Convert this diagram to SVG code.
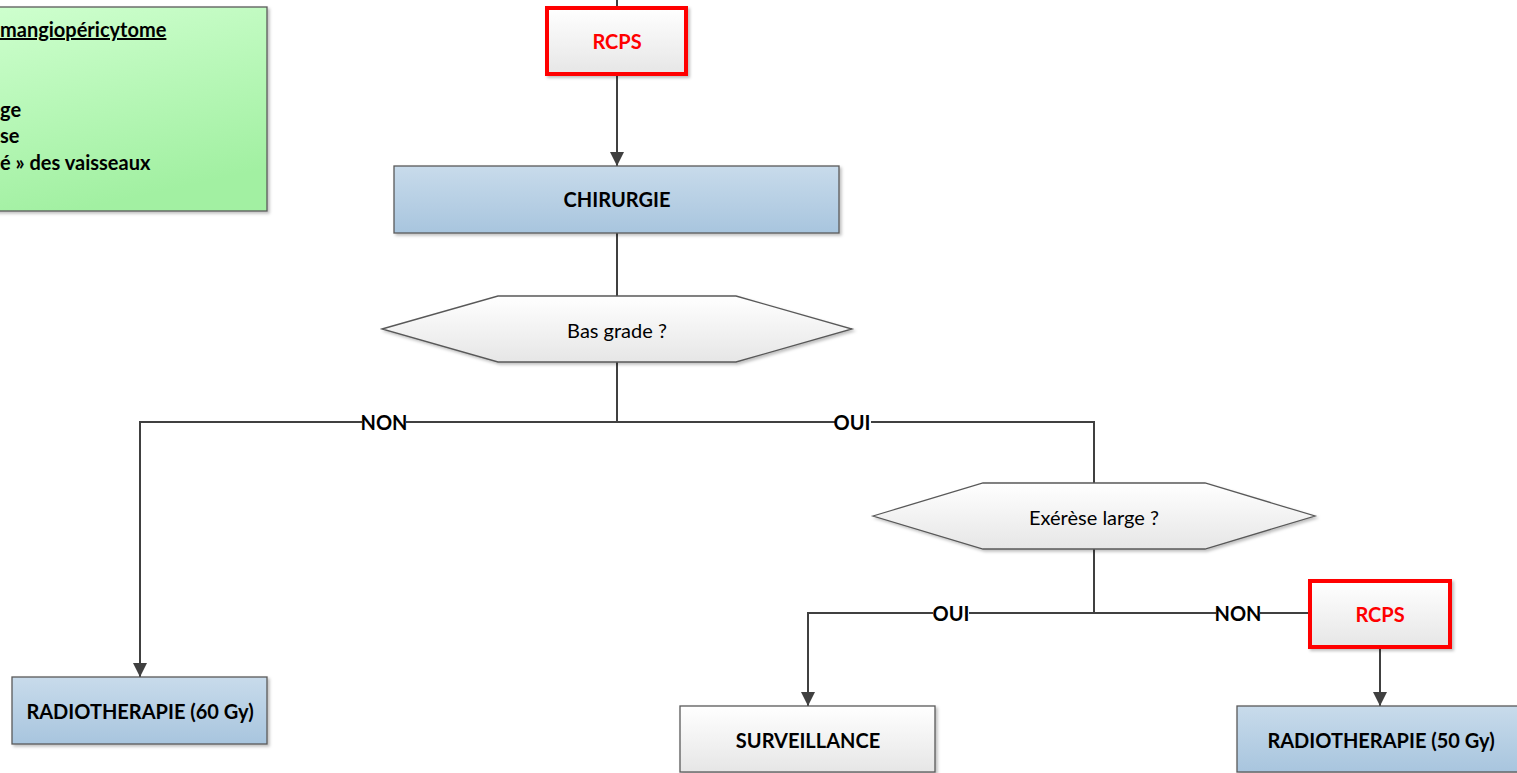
<svg xmlns="http://www.w3.org/2000/svg" width="1517" height="773" viewBox="0 0 1517 773">
<style>
.lbl{font-family:Lato,"Liberation Sans",sans-serif;font-weight:bold;font-size:20px;fill:#000;text-anchor:middle}
.reg{font-family:Lato,"Liberation Sans",sans-serif;font-size:20px;fill:#000;text-anchor:middle}
.red{fill:#ff0000}
.box{stroke:#595959;stroke-width:1.3}
.rcps{stroke:#ff0000;stroke-width:4;fill:url(#gGray)}
.conn{fill:none;stroke:#404040;stroke-width:2}
.note{font-family:Lato,"Liberation Sans",sans-serif;font-weight:bold;font-size:20px;fill:#000}
</style>
<defs>
<linearGradient id="gBlue" x1="0" y1="0" x2="0" y2="1"><stop offset="0" stop-color="#c8dbeb"/><stop offset="1" stop-color="#a8c5de"/></linearGradient>
<linearGradient id="gGray" x1="0" y1="0" x2="0" y2="1"><stop offset="0" stop-color="#ffffff"/><stop offset="1" stop-color="#e6e6e6"/></linearGradient>
<linearGradient id="gGreen" x1="0" y1="0" x2="0.3" y2="1"><stop offset="0" stop-color="#ceffce"/><stop offset="1" stop-color="#a2f0a2"/></linearGradient>
<filter id="sh" x="-10%" y="-10%" width="130%" height="140%"><feDropShadow dx="2" dy="2" stdDeviation="1.5" flood-color="#000" flood-opacity="0.25"/></filter>
<marker id="arr" markerWidth="14" markerHeight="14" refX="14" refY="7" orient="auto" markerUnits="userSpaceOnUse"><path d="M0,0 L14,7 L0,14 Z" fill="#404040"/></marker>
</defs>
<rect width="1517" height="773" fill="#ffffff"/>

<g id="connectors">
<path class="conn" d="M617,0 V6"/>
<path class="conn" d="M617,76 V166" marker-end="url(#arr)"/>
<path class="conn" d="M617,233 V296"/>
<path class="conn" d="M617,362 V422 H140 V677" marker-end="url(#arr)"/>
<path class="conn" d="M617,422 H1094 V483"/>
<path class="conn" d="M1094,549 V613 H808 V706" marker-end="url(#arr)"/>
<path class="conn" d="M1094,613 H1310"/>
<path class="conn" d="M1380,649 V706" marker-end="url(#arr)"/>
<rect x="362" y="412" width="44" height="20" fill="#fff"/>
<text class="lbl" x="384" y="430">NON</text>
<rect x="835" y="412" width="36" height="20" fill="#fff"/>
<text class="lbl" x="852" y="430">OUI</text>
<rect x="933" y="603" width="36" height="20" fill="#fff"/>
<text class="lbl" x="951" y="621">OUI</text>
<rect x="1216" y="603" width="44" height="20" fill="#fff"/>
<text class="lbl" x="1238" y="621">NON</text>
</g>

<g id="note">
<rect x="-10" y="7" width="277" height="204" fill="url(#gGreen)" class="box" filter="url(#sh)"/>
<text class="note" x="0" y="37" text-decoration="underline">mangiopéricytome</text>
<text class="note" x="0" y="117">ge</text>
<text class="note" x="0" y="143">se</text>
<text class="note" x="0" y="170">é » des vaisseaux</text>
</g>

<g id="rcps1">
<rect x="547" y="8" width="139" height="66" class="rcps" filter="url(#sh)"/>
<text class="lbl red" x="617" y="49">RCPS</text>
</g>

<g id="chirurgie">
<rect x="394" y="166" width="445" height="67" fill="url(#gBlue)" class="box" filter="url(#sh)"/>
<text class="lbl" x="617" y="207">CHIRURGIE</text>
</g>

<g id="basgrade">
<polygon points="382,329 498,296 736,296 852,329 736,362 498,362" fill="url(#gGray)" class="box" filter="url(#sh)"/>
<text class="reg" x="617" y="338">Bas grade ?</text>
</g>

<g id="radio60">
<rect x="12" y="677" width="255" height="67" fill="url(#gBlue)" class="box" filter="url(#sh)"/>
<text class="lbl" x="140" y="719">RADIOTHERAPIE (60 Gy)</text>
</g>

<g id="exerese">
<polygon points="873,516 983,483 1205,483 1315,516 1205,549 983,549" fill="url(#gGray)" class="box" filter="url(#sh)"/>
<text class="reg" x="1094" y="525">Exérèse large ?</text>
</g>

<g id="surveillance">
<rect x="680" y="706" width="255" height="66" fill="url(#gGray)" class="box" filter="url(#sh)"/>
<text class="lbl" x="808" y="748">SURVEILLANCE</text>
</g>

<g id="rcps2">
<rect x="1310" y="581" width="140" height="66" class="rcps" filter="url(#sh)"/>
<text class="lbl red" x="1380" y="622">RCPS</text>
</g>

<g id="radio50">
<rect x="1237" y="706" width="287" height="66" fill="url(#gBlue)" class="box" filter="url(#sh)"/>
<text class="lbl" x="1381" y="748">RADIOTHERAPIE (50 Gy)</text>
</g>
</svg>
